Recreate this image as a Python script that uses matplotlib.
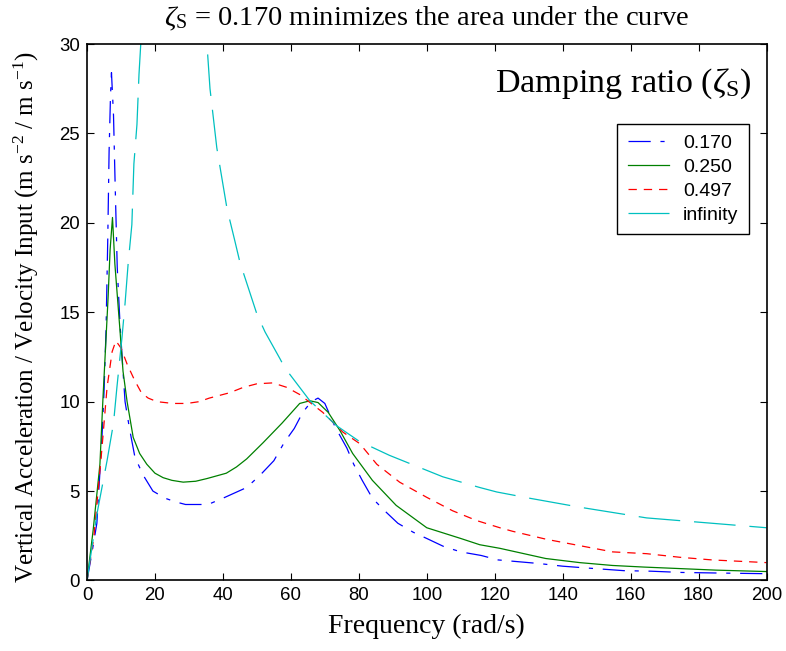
import matplotlib
matplotlib.use("Agg")
import matplotlib.pyplot as plt

# Frequency response of vertical body acceleration per unit velocity input
# for several suspension damping ratios.
freq_017 = [0, 1.5, 2.9, 4.4, 5.0, 5.6, 6.1, 6.5, 6.9, 7.2, 7.8, 8.3, 8.9, 9.7,
            10.6, 11.2, 12.5, 14.1, 16.5, 19.4, 23.0, 26.0, 29.0, 35.6, 40.0,
            47.0, 51.0, 55.0, 58.0, 61.0, 63.5, 66.0, 68.0, 70.0, 73.0, 76.5,
            78.5, 81.0, 84.0, 87.6, 91.5, 96.0, 100, 105, 110, 116, 121, 127,
            133, 140, 147, 158, 166, 175, 185, 200]
resp_017 = [0, 1.6, 3.2, 8.0, 10.5, 14.0, 19.0, 24.0, 27.0, 28.4, 26.0, 22.0,
            17.5, 14.4, 11.7, 10.0, 8.5, 6.9, 5.9, 5.0, 4.6, 4.4, 4.25, 4.25,
            4.6, 5.2, 5.9, 6.7, 7.7, 8.5, 9.4, 10.0, 10.2, 9.9, 8.6, 7.4, 6.5,
            5.6, 4.6, 3.9, 3.2, 2.7, 2.35, 1.9, 1.6, 1.4, 1.15, 1.05, 0.95,
            0.8, 0.7, 0.55, 0.52, 0.45, 0.42, 0.38]

freq_025 = [0, 1.8, 3.8, 4.7, 6.2, 6.8, 7.5, 8.2, 9.7, 10.6, 11.8, 13.6, 15.5,
            17.6, 20.0, 22.4, 25.0, 28.3, 32.0, 35.3, 41.0, 44.0, 47.0, 51.8,
            57.4, 62.6, 65.6, 68.0, 71.0, 74.4, 78.2, 84.0, 91.0, 100, 110,
            115.6, 121.5, 135, 145, 154.7, 164, 174, 185, 200]
resp_025 = [0, 2.8, 6.5, 10.2, 15.8, 18.5, 20.3, 17.7, 14.0, 11.7, 10.0, 8.0,
            7.1, 6.5, 6.0, 5.75, 5.6, 5.5, 5.55, 5.7, 6.0, 6.35, 6.8, 7.7, 8.8,
            9.9, 10.05, 9.95, 9.4, 8.4, 7.1, 5.6, 4.2, 2.95, 2.35, 2.0, 1.8,
            1.23, 1.0, 0.84, 0.75, 0.67, 0.58, 0.5]

freq_0497 = [0, 2.0, 4.4, 5.9, 7.4, 8.5, 10.0, 11.8, 14.0, 16.0, 18.0, 20.6,
             25.3, 29.4, 33.0, 36.0, 42.0, 46.0, 50.0, 54.7, 58.8, 62.6, 66.0,
             69.4, 75.3, 80.3, 85.3, 92.0, 100, 107.6, 114.7, 121.5, 125.3,
             135.3, 145, 154.7, 164.7, 174.4, 184, 200]
resp_0497 = [0, 2.4, 7.4, 10.8, 12.8, 13.4, 13.0, 12.1, 11.2, 10.5, 10.2, 10.0,
             9.9, 9.9, 10.0, 10.2, 10.5, 10.8, 11.0, 11.05, 10.8, 10.4, 9.9,
             9.4, 8.3, 7.65, 6.5, 5.5, 4.65, 3.9, 3.35, 2.95, 2.75, 2.3, 1.95,
             1.6, 1.5, 1.3, 1.15, 1.0]

freq_inf = [0, 2.9, 5.9, 7.8, 8.8, 10.3, 11.2, 12.1, 13.2, 13.8, 14.7, 15.3,
            25.0, 35.3, 36.2, 38.2, 41.2, 43.5, 45.0, 50.0, 52.4, 56.8, 58.2,
            65.6, 73.5, 80.0, 89.0, 104.7, 115.6, 120.6, 130.3, 145, 164.7,
            184, 200]
resp_inf = [0, 3.7, 6.7, 8.8, 10.8, 13.6, 15.5, 17.7, 19.9, 23.3, 25.5, 28.3,
            60.0, 30.0, 27.5, 24.2, 20.8, 19.0, 17.8, 14.9, 13.9, 12.4, 11.9,
            10.05, 8.65, 7.8, 7.0, 5.8, 5.2, 4.95, 4.6, 4.1, 3.5, 3.2, 2.95]

series_labels = ["0.170", "0.250", "0.497", "infinity"]
x_ticks = list(range(0, 201, 20))
y_ticks = list(range(0, 31, 5))

plt.rcParams["lines.scale_dashes"] = False
plt.rcParams["mathtext.fontset"] = "custom"
plt.rcParams["mathtext.rm"] = "Liberation Serif"
plt.rcParams["mathtext.it"] = "Liberation Serif:italic"
plt.rcParams["mathtext.sf"] = "Liberation Serif"

serif = "Liberation Serif"
sans = "Liberation Sans"

fig = plt.figure(figsize=(7.86, 6.51), dpi=100)
ax = fig.add_axes([0.1107, 0.1083, 0.9752 - 0.1107, 0.9324 - 0.1083])

lw = 0.9
ax.plot(freq_017, resp_017, color="#0000ff", lw=lw, ls=(0, (16, 7, 3, 7)),
        label=series_labels[0])
ax.plot(freq_025, resp_025, color="#008000", lw=lw, ls="-",
        label=series_labels[1])
ax.plot(freq_0497, resp_0497, color="#ff0000", lw=lw, ls=(0, (6, 5)),
        label=series_labels[2])
ax.plot(freq_inf, resp_inf, color="#00c0c0", lw=lw, ls=(0, (30, 10)),
        label=series_labels[3])

ax.set_xlim(0, 200)
ax.set_ylim(0, 30)
ax.set_xticks(x_ticks)
ax.set_yticks(y_ticks)
ax.tick_params(direction="in", length=5, width=0.8, top=True, right=True,
               labelsize=13.4, pad=5)
for lab in ax.get_xticklabels() + ax.get_yticklabels():
    lab.set_family(sans)
for sp in ax.spines.values():
    sp.set_linewidth(1.2)

leg = ax.legend(loc="upper right", bbox_to_anchor=(0.9742, 0.8509),
                borderaxespad=0, fancybox=False, framealpha=1,
                edgecolor="black", prop={"family": sans, "size": 14},
                handlelength=2.1, handletextpad=0.72, labelspacing=0.32,
                borderpad=0.55)
leg.get_frame().set_linewidth(1.0)

ax.text(0.978, 0.9105, r"Damping ratio ($\zeta_{\mathrm{S}}$)",
        transform=ax.transAxes, ha="right", va="baseline",
        family=serif, fontsize=24.5)

fig.text(0.5427, 1 - 25 / 651,
         r"$\zeta_{\mathrm{S}}$ = 0.170 minimizes the area under the curve",
         ha="center", va="baseline", family=serif, fontsize=20.5)
fig.text(0.5427, 1 - 633 / 651, "Frequency (rad/s)",
         ha="center", va="baseline", family=serif, fontsize=20)
fig.text(0.033, 0.5123,
         r"Vertical Acceleration / Velocity Input (m s$^{-2}$ / m s$^{-1}$)",
         rotation=90, ha="center", va="center", family=serif, fontsize=18)

fig.savefig("out.png", dpi=100)
